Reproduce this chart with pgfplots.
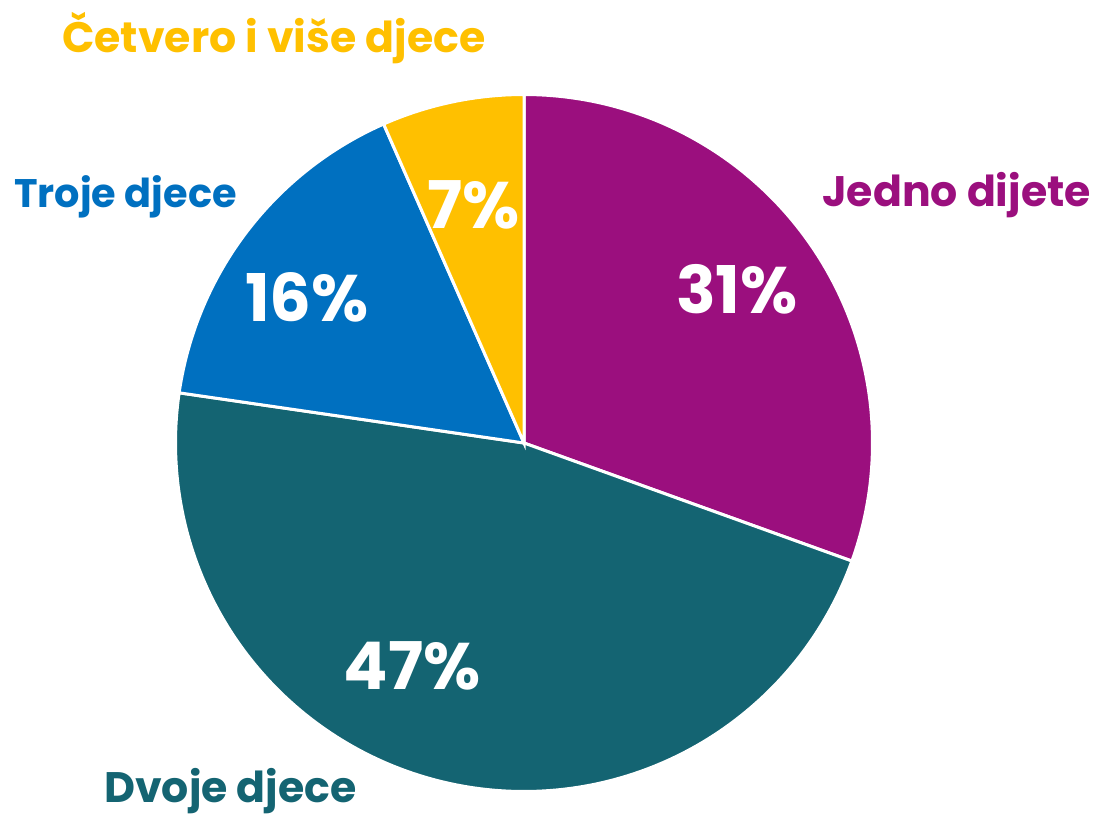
\documentclass[border=0pt]{standalone}
\usepackage{pgfplots}
\pgfplotsset{compat=1.18}
\usepackage{fontspec}
\setmainfont{Poppins}
\definecolor{cpurple}{RGB}{155,15,126}
\definecolor{cteal}{RGB}{20,100,114}
\definecolor{cblue}{RGB}{0,112,192}
\definecolor{cyellow}{RGB}{255,192,0}
% shares (per cent of the full circle)
\def\vJedno{30.5}
\def\vDvoje{46.8}
\def\vTroje{16.1}
\def\vCetvero{6.6}
\pgfmathsetmacro{\aA}{90}
\pgfmathsetmacro{\aB}{\aA-3.6*\vJedno}
\pgfmathsetmacro{\aC}{\aB-3.6*\vDvoje}
\pgfmathsetmacro{\aD}{\aC-3.6*\vTroje}
\pgfmathsetmacro{\aE}{\aD-3.6*\vCetvero}
\def\cx{524}
\def\cy{443}
\def\R{348.5}
\begin{document}
\begin{tikzpicture}
\begin{axis}[
  hide axis, scale only axis, clip=false,
  width=1096bp, height=816bp,
  xmin=0, xmax=1096, ymin=0, ymax=816, y dir=reverse,
]
\addplot[draw=none] coordinates {(0,0) (1096,816)};
\addplot[fill=cpurple, draw=white, line width=3bp, domain=\aB:\aA, samples=120]
  ({\cx+\R*cos(x)}, {\cy-\R*sin(x)}) -- (axis cs:\cx,\cy) -- cycle;
\addplot[fill=cteal, draw=white, line width=3bp, domain=\aC:\aB, samples=160]
  ({\cx+\R*cos(x)}, {\cy-\R*sin(x)}) -- (axis cs:\cx,\cy) -- cycle;
\addplot[fill=cblue, draw=white, line width=3bp, domain=\aD:\aC, samples=80]
  ({\cx+\R*cos(x)}, {\cy-\R*sin(x)}) -- (axis cs:\cx,\cy) -- cycle;
\addplot[fill=cyellow, draw=white, line width=3bp, domain=\aE:\aD, samples=40]
  ({\cx+\R*cos(x)}, {\cy-\R*sin(x)}) -- (axis cs:\cx,\cy) -- cycle;
% percentages
\begin{scope}[every node/.style={text=white, font=\fontsize{66}{70}\selectfont\bfseries, inner sep=0pt}]
\node at (axis cs:737,289) {31\%};
\node at (axis cs:412,666) {47\%};
\node at (axis cs:307,297) {16\%};
\node at (axis cs:474,205) {7\%};
\end{scope}
% category labels
\begin{scope}[every node/.style={font=\fontsize{42.8}{48}\selectfont\bfseries, inner sep=0pt, anchor=base west}]
\node[text=cyellow] at (axis cs:62,53) {Četvero i više djece};
\node[text=cblue, font=\fontsize{40}{46}\selectfont\bfseries] at (axis cs:14,208) {Troje djece};
\node[text=cpurple] at (axis cs:822,207) {Jedno dijete};
\node[text=cteal] at (axis cs:104,802) {Dvoje djece};
\end{scope}
\end{axis}
\end{tikzpicture}
\end{document}
